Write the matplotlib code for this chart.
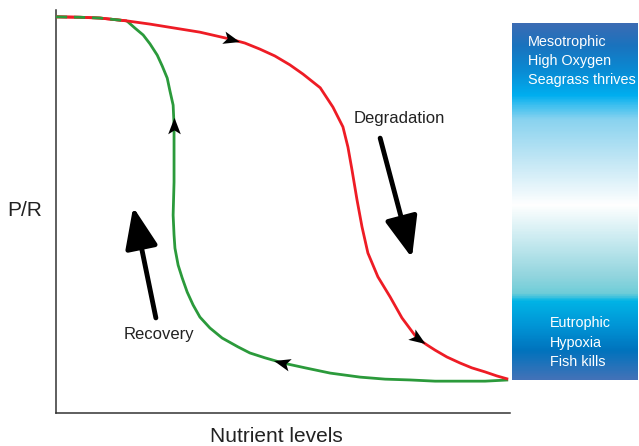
"""Hysteresis sketch: P/R response to nutrient loading (degradation vs recovery)."""
import matplotlib as mpl
import matplotlib.pyplot as plt
import numpy as np
from matplotlib.colors import LinearSegmentedColormap
from matplotlib.markers import MarkerStyle
from matplotlib.path import Path
from matplotlib.transforms import Affine2D

# --- data (nutrient level 0-100, P/R 0-100) -------------------------------
RED_X = [0.0, 5.3, 9.7, 15.6, 20.7, 26.2, 31.7, 38.3, 41.6, 44.9, 48.2, 51.5,
         54.4, 58.2, 61.0, 63.2, 64.3, 65.2, 66.3, 67.4, 68.7, 70.9, 73.6,
         76.2, 79.5, 81.7, 83.5, 86.1, 89.0, 91.6, 94.5, 97.1, 99.6]
RED_Y = [98.3, 98.2, 98.0, 97.3, 96.5, 95.5, 94.5, 92.8, 91.8, 90.3, 88.6, 86.4,
         84.1, 80.7, 75.9, 71.0, 66.0, 60.3, 52.9, 46.2, 39.7, 33.8, 28.8,
         23.6, 18.6, 16.9, 15.6, 13.9, 12.4, 11.2, 10.2, 9.2, 8.4]

GREEN_X = [15.6, 17.4, 19.2, 20.7, 22.3, 23.4, 24.5, 25.1, 25.8, 26.0, 26.0,
           26.0, 25.8, 26.0, 26.2, 26.9, 27.8, 28.9, 30.2, 31.7, 33.9, 36.6,
           40.1, 42.7, 46.0, 50.0, 54.9, 60.4, 67.0, 72.5, 78.0, 83.5, 89.0,
           94.5, 99.6]
GREEN_Y = [97.3, 95.5, 93.8, 91.6, 88.8, 86.1, 83.1, 79.9, 76.4, 71.5, 65.3,
           57.3, 49.1, 44.2, 40.9, 36.7, 33.5, 30.0, 26.8, 23.8, 21.1, 18.6,
           16.4, 14.9, 13.7, 12.4, 11.2, 9.9, 8.9, 8.4, 8.2, 7.9, 7.9,
           7.9, 8.2]
# shared plateau at low nutrient (both states, drawn dashed)
SHARED_X = [0.0, 5.3, 9.7, 15.6]
SHARED_Y = [98.3, 98.2, 98.0, 97.3]

# direction marks: (x, y, dx, dy) along the curves
MARKS = [(38.3, 92.8, 3.3, -1.0), (79.5, 18.6, 2.2, -1.7),
         (26.0, 71.0, 0.0, 1.0), (50.0, 12.4, -4.0, 1.2)]

# big trend arrows: (tail, tip)
RECOVERY_ARROW = ((22.0, 23.6), (17.0, 51.1))
DEGRADATION_ARROW = ((71.4, 68.2), (78.4, 38.5))

# colour strip stops (0 = top, 1 = bottom)
STRIP_POS = [0.0, 0.06, 0.13, 0.20, 0.23, 0.27, 0.38, 0.51, 0.61, 0.71, 0.76,
             0.78, 0.85, 0.92, 1.0]
STRIP_COL = ["#3b6cb4", "#1a73be", "#0a8ad3", "#00aeef", "#3fc0f0", "#8ad3ef",
             "#c0e6f5", "#ffffff", "#c8eaf0", "#92d5de", "#6ecdd8", "#00b4e6",
             "#0095d6", "#0073bd", "#4272b8"]
TOP_LINES = ["Mesotrophic", "High Oxygen", "Seagrass thrives"]
BOTTOM_LINES = ["Eutrophic", "Hypoxia", "Fish kills"]

RED = "#ee1c25"
GREEN = "#2b9a3b"
TEXT = "#222222"
W, H = 639, 446

mpl.rcParams.update({
    "font.family": "sans-serif",
    "font.sans-serif": ["Liberation Sans", "DejaVu Sans"],
})

# notched arrowhead pointing along +x
HEAD = Path([(1.0, 0.0), (-0.7, 0.65), (-0.3, 0.0), (-0.7, -0.65), (1.0, 0.0)],
            [Path.MOVETO, Path.LINETO, Path.LINETO, Path.LINETO, Path.CLOSEPOLY])


def px(x0, y0, w, h):
    """Pixel box (top-left origin) -> figure fraction rect."""
    return [x0 / W, 1 - (y0 + h) / H, w / W, h / H]


def add_head(ax, x, y, dx, dy):
    p0 = ax.transData.transform((x, y))
    p1 = ax.transData.transform((x + dx, y + dy))
    ang = np.degrees(np.arctan2(p1[1] - p0[1], p1[0] - p0[0]))
    m = MarkerStyle(HEAD, transform=Affine2D().rotate_deg(ang))
    ax.plot([x], [y], marker=m, markersize=14, color="black",
            markeredgewidth=0, zorder=5, clip_on=False)


fig = plt.figure(figsize=(W / 100, H / 100), dpi=100)

ax = fig.add_axes(px(56, 10, 454, 403))
ax.set_xlim(0, 100)
ax.set_ylim(0, 100)
for s in ("top", "right"):
    ax.spines[s].set_visible(False)
for s in ("left", "bottom"):
    ax.spines[s].set_color("#333333")
    ax.spines[s].set_linewidth(1.1)
ax.set_xticks([])
ax.set_yticks([])

line_kw = dict(lw=2.0, solid_joinstyle="round", solid_capstyle="butt")
ax.plot(RED_X, RED_Y, color=RED, zorder=3, **line_kw)
ax.plot(GREEN_X, GREEN_Y, color=GREEN, zorder=2, **line_kw)
ax.plot(SHARED_X, SHARED_Y, color=RED, zorder=3, **line_kw)
ax.plot(SHARED_X, SHARED_Y, color=GREEN, lw=2.0, dashes=(4, 2.5), zorder=4)

for x, y, dx, dy in MARKS:
    add_head(ax, x, y, dx, dy)

for tail, tip in (RECOVERY_ARROW, DEGRADATION_ARROW):
    ax.annotate("", xy=tip, xytext=tail,
                arrowprops=dict(arrowstyle="-|>,head_length=2.5,head_width=1.0",
                                lw=3.5, color="black", shrinkA=0, shrinkB=0))

ax.text(65.5, 73, "Degradation", fontsize=12, color=TEXT, ha="left", va="center")
ax.text(15.0, 19.5, "Recovery", fontsize=12, color=TEXT, ha="left", va="center")

fig.text(25 / W, 1 - 210 / H, "P/R", fontsize=15, color=TEXT,
         ha="center", va="center")
fig.text(276 / W, 1 - 437 / H, "Nutrient levels", fontsize=15, color=TEXT,
         ha="center", va="center")

# colour strip
cax = fig.add_axes(px(512, 23, 126, 357))
cmap = LinearSegmentedColormap.from_list("strip", list(zip(STRIP_POS, STRIP_COL)))
cax.imshow(np.linspace(0, 1, 400)[:, None], cmap=cmap, aspect="auto",
           extent=(0, 1, 1, 0), interpolation="bilinear")
cax.set_axis_off()

for i, line in enumerate(TOP_LINES):
    fig.text(528 / W, 1 - (42 + 19 * i) / H, line, fontsize=10.4, color="white",
             ha="left", va="center")
for i, line in enumerate(BOTTOM_LINES):
    fig.text(550 / W, 1 - (323 + 19.5 * i) / H, line, fontsize=10.4, color="white",
             ha="left", va="center")

fig.savefig("out.png", dpi=100)
